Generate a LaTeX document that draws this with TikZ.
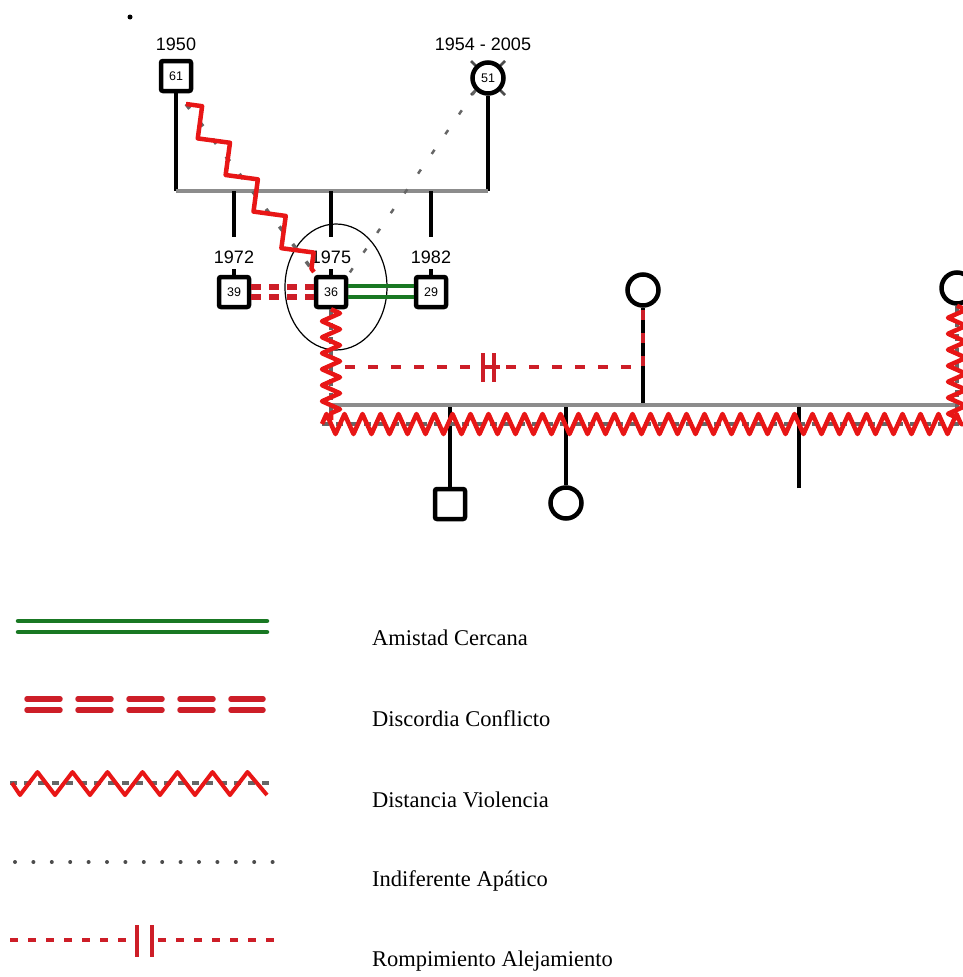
\documentclass[tikz,border=0pt]{standalone}
\usepackage{fontspec}
\setmainfont{Liberation Serif}
\newfontfamily\arialf{Liberation Sans}
\usetikzlibrary{positioning, calc, decorations.pathmorphing}
\definecolor{zzred}{RGB}{232,22,22}
\definecolor{dkred}{RGB}{205,30,40}
\definecolor{amigreen}{RGB}{25,120,35}
\tikzset{gmale/.style={draw=black, line width=4.5pt, fill=white, rounded corners=2, minimum size=30pt, inner sep=0pt, font=\arialf\fontsize{12.5}{14}\selectfont}}
\tikzset{gfem/.style={circle, draw=black, line width=4.5pt, fill=white, minimum size=31pt, inner sep=0pt, font=\arialf\fontsize{12.5}{14}\selectfont}}
\tikzset{yearlbl/.style={font=\arialf\fontsize{18}{20}\selectfont, inner sep=0pt}}
\tikzset{famln/.style={draw=black!45, line width=4.5pt}}
\tikzset{kidln/.style={draw=black, line width=4pt}}
\tikzset{violen/.style 2 args={draw=zzred, line width=4.5pt, line join=round, decorate, decoration={zigzag, segment length=#1, amplitude=#2}}}
\tikzset{midln/.style={draw=black!60, line width=3.5pt, dash pattern=on 7pt off 7pt}}
\tikzset{discord/.style={draw=dkred, line width=5.5pt, dash pattern=on 10pt off 8pt}}
\tikzset{amist/.style={draw=amigreen, line width=4.5pt}}
\tikzset{indif/.style={draw=black!60, line width=2.5pt, dash pattern=on 5pt off 19pt}}
\tikzset{rompe/.style={draw=dkred, line width=4.5pt, dash pattern=on 10pt off 13pt}}
\tikzset{rompebar/.style={draw=dkred, line width=4.5pt}}
\tikzset{legtxt/.style={anchor=west, inner sep=0pt, font=\fontsize{22.5}{26}\selectfont}}
\begin{document}
\begin{tikzpicture}[x=1pt, y=-1pt]
  \useasboundingbox (0,0) rectangle (963,977);
  \fill (130,17) circle (2.5pt);
  % grandparents
  \node[gmale] (p61) at (176,76) {61};
  \node[yearlbl, above=8pt of p61] (y61) {1950};
  \coordinate (c51) at (488,78);
  \draw[black!70, line width=2.5pt] ($(c51)+(-17,-17)$) -- ($(c51)+(17,17)$);
  \draw[black!70, line width=2.5pt] ($(c51)+(-17,17)$) -- ($(c51)+(17,-17)$);
  \node[gfem] (p51) at (c51) {51};
  \node[yearlbl, above=9pt of p51, xshift=-5pt] (y51) {1954 - 2005};
  \coordinate (s61) at (176,191);
  \coordinate (s51) at (488,191);
  \draw[kidln] (p61) -- (s61);
  \draw[kidln] (p51) -- (s51);
  \draw[famln] (s61) -- (s51);
  % siblings
  \node[gmale] (p39) at (234,292) {39};
  \node[gmale] (p36) at (331,292) {36};
  \node[gmale] (p29) at (431,292) {29};
  \foreach \k/\yr in {39/1972, 36/1975, 29/1982} {
    \node[yearlbl, above=11pt of p\k] (y\k) {\yr};
    \draw[kidln] (p\k.north) -- ++(0,-6);
    \draw[kidln] (s61 -| p\k) -- ++(0,46);
  }
  \draw[line width=1.2pt] (336,287) ellipse [x radius=51, y radius=63];
  % relations
  \coordinate (vz0) at (186,104);
  \coordinate (vz1) at (314,272);
  \draw[midln, dash pattern=on 6pt off 16pt] (vz0) -- (vz1);
  \draw[violen={46}{11.5}] (vz0) -- (vz1);
  \draw[indif] (p51.south west) -- (p36.north east);
  \draw[discord] ([yshift=5pt]p39.east) -- ([yshift=5pt]p36.west);
  \draw[discord] ([yshift=-5pt]p39.east) -- ([yshift=-5pt]p36.west);
  \draw[amist] ([yshift=6pt]p36.east) -- ([yshift=6pt]p29.west);
  \draw[amist] ([yshift=-5pt]p36.east) -- ([yshift=-5pt]p29.west);
  % partners of 36
  \node[gfem] (pw1) at (643,290) {};
  \node[gfem] (pw2) at (957,288) {};
  \coordinate (m36) at (331,405);
  \coordinate (mw) at (957,405);
  \draw[kidln] (pw1) -- (pw1 |- m36);
  \node[gmale] (k1) at (450,504) {};
  \node[gfem] (k2) at (566,503) {};
  \coordinate (k3) at (799,488);
  \draw[kidln] (k1) -- (k1 |- m36);
  \draw[kidln] (k2) -- (k2 |- m36);
  \draw[kidln] (k3) -- (k3 |- m36);
  \draw[famln] (m36) -- (mw);
  \coordinate (hz0) at (322,424);
  \coordinate (hz1) at (963,424);
  \draw[midln] (hz0) -- (hz1);
  \draw[violen={18}{10}] (hz0) -- (hz1);
  \draw[midln] (p36.south) -- (331,420);
  \draw[violen={16}{9}] (p36.south) -- (331,420);
  \draw[midln] (pw2.south) -- (957,420);
  \draw[violen={16}{9}] (pw2.south) -- (957,420);
  \coordinate (r0) at (345,367);
  \draw[rompe] (r0) -- (r0 -| pw1) -- (pw1.south);
  \draw[rompebar] (483,353) -- (483,382);
  \draw[rompebar] (494,353) -- (494,382) (494,367) -- (500,367);
  % legend
  \draw[amist, line width=4.5pt, line cap=round] (18,621) -- (267,621);
  \draw[amist, line width=4.5pt, line cap=round] (18,632) -- (267,632);
  \node[legtxt] (l1) at (372,638) {Amistad Cercana};
  \draw[discord, line width=5.5pt, line cap=round, dash pattern=on 33pt off 18pt] (27,699) -- (263,699);
  \draw[discord, line width=5.5pt, line cap=round, dash pattern=on 33pt off 18pt] (27,710) -- (263,710);
  \node[legtxt] (l2) at (372,719) {Discordia Conflicto};
  \draw[midln] (10,783) -- (274,783);
  \draw[draw=zzred, line width=4pt, line join=round] (12,783)
    \foreach \i in {0,...,6} { -- ({20+35*\i},795) -- ({37.5+35*\i},772) } -- (267,795);
  \node[legtxt] (l3) at (372,800) {Distancia Violencia};
  \draw[draw=black!70, line width=4pt, line cap=round, dash pattern=on 0pt off 18.4pt] (15,862) -- (275,862);
  \node[legtxt] (l4) at (372,881) {Indiferente Apático};
  \draw[rompe, dash pattern=on 8pt off 10pt] (10,940) -- (134,940);
  \draw[rompe, dash pattern=on 8pt off 10pt] (158,940) -- (282,940);
  \draw[rompebar] (137,925) -- (137,957);
  \draw[rompebar] (152,925) -- (152,957);
  \node[legtxt] (l5) at (372,961) {Rompimiento Alejamiento};
\end{tikzpicture}
\end{document}
